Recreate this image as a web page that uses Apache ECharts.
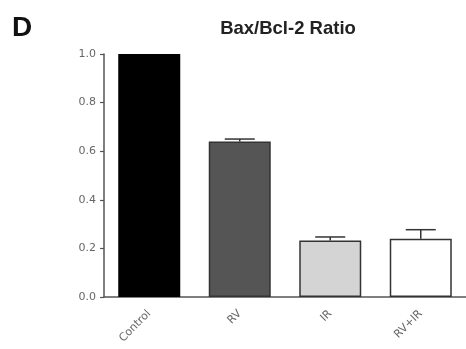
<!DOCTYPE html>
<html><head><meta charset="utf-8">
<script src="https://cdn.jsdelivr.net/npm/echarts@6/dist/echarts.min.js"></script>
<style>html,body{margin:0;padding:0;background:#fff}#c{width:466px;height:349px}</style>
</head><body><div id="c"></div>
<script>
const categories = ['Control', 'RV', 'IR', 'RV+IR'];
const ratioValues = [1.0, 0.64, 0.232, 0.24];
const ratioErrors = [0, 0.01, 0.015, 0.037];
const barColors = ['#000000', '#555555', '#d4d4d4', '#ffffff'];
const yTicks = [0, 0.2, 0.4, 0.6, 0.8, 1.0];

const chart = echarts.init(document.getElementById('c'), null, {renderer: 'canvas'});
const font = '"Liberation Sans", Arial, sans-serif';
const labelFont = '"DejaVu Sans", sans-serif';
chart.setOption({
  animation: false,
  backgroundColor: '#fff',
  title: [
    {text: 'D', left: 7, top: 9, textStyle: {fontFamily: font, fontWeight: 'bold', fontSize: 28, color: '#111'}},
    {text: 'Bax/Bcl-2 Ratio', left: 283, top: 14, textAlign: 'center', textStyle: {fontFamily: font, fontWeight: 'bold', fontSize: 18.5, color: '#222'}}
  ],
  grid: {left: 104, right: -2, top: 54, bottom: 52, containLabel: false},
  xAxis: {
    type: 'category', data: categories,
    axisLine: {lineStyle: {color: '#555', width: 1.5}},
    axisTick: {alignWithLabel: true, length: 5, lineStyle: {color: '#444', width: 1.5}},
    axisLabel: {rotate: 45, fontSize: 11, color: '#666', fontFamily: labelFont, margin: 15}
  },
  yAxis: {
    type: 'value', min: 0, max: 1.0, interval: 0.2,
    splitLine: {show: false},
    axisLine: {show: true, lineStyle: {color: '#555', width: 1.5}},
    axisTick: {show: true, length: 4, lineStyle: {color: '#555', width: 1.2}},
    axisLabel: {fontSize: 11, color: '#666', fontFamily: labelFont, margin: 8,
      formatter: v => v.toFixed(1)}
  },
  series: [
    {
      type: 'bar', barWidth: 62,
      data: ratioValues.map((v, i) => ({value: v, itemStyle: {color: barColors[i], borderColor: i === 0 ? '#000' : '#333', borderWidth: 1.5}}))
    },
    {
      type: 'custom',
      data: ratioValues.map((v, i) => [i, v, v + ratioErrors[i]]),
      z: 3,
      renderItem: function (params, api) {
        const i = api.value(0);
        if (api.value(2) <= api.value(1)) return null;
        const base = api.coord([i, api.value(1)]);
        const top = api.coord([i, api.value(2)]);
        const hw = 15;
        const style = {stroke: '#333', lineWidth: 1.5};
        return {type: 'group', children: [
          {type: 'line', shape: {x1: base[0], y1: base[1], x2: top[0], y2: top[1]}, style: style},
          {type: 'line', shape: {x1: top[0] - hw, y1: top[1], x2: top[0] + hw, y2: top[1]}, style: style}
        ]};
      }
    }
  ]
});
</script></body></html>
